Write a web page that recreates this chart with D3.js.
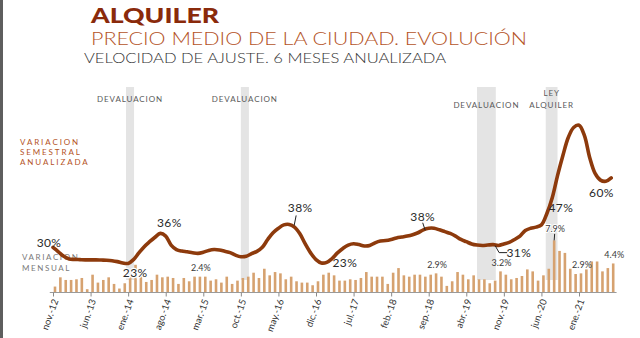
<!DOCTYPE html>
<html><head><meta charset="utf-8">
<script src="https://cdn.jsdelivr.net/npm/d3@7"></script>
<style>
html,body{margin:0;padding:0;background:#fff;}
svg{display:block;font-family:Lato,"Open Sans",sans-serif;}
</style></head><body>
<svg id="c" width="640" height="338"></svg>
<script>
// ---- categories ----
const monthNames = ["ene.","feb.","mar.","abr.","may.","jun.","jul.","ago.","sep.","oct.","nov.","dic."];
const months = [];
for (let k = 0; k < 105; k++) { const m = (10 + k) % 12; const yy = 12 + Math.floor((10 + k) / 12); months.push(monthNames[m] + "-" + yy); }
const tickLabels = ["nov.-12","jun.-13","ene.-14","ago.-14","mar.-15","oct.-15","may.-16","dic.-16","jul.-17","feb.-18","sep.-18","abr.-19","nov.-19","jun.-20","ene.-21"];

// ---- series: variación semestral anualizada (%) ----
const semestral = [30,28,26,24.8,24.6,24.5,24.4,24.4,24.4,24.3,24.2,24.0,23.6,23.0,22.8,24.5,27.5,30.3,32.5,34.5,
36.2,35,31,29,28.3,28.0,27.6,27.3,27.8,28.6,29.0,28.8,28.2,27.6,26.5,25.8,26.0,27.2,28.2,30,
33.5,36.5,38.5,40,40.2,39,36,31.5,27.5,24.5,23,23.3,25,27.5,29.5,31,31.6,31.2,30.6,30.8,
32,32.8,33.0,33.5,34.2,34.6,35,35.6,36.5,37.8,38.5,38.5,37.8,37,36.2,35,33.5,32.5,31.5,31.0,
30.8,31.0,31.2,30.8,31.5,32.2,33.5,35,37.5,38.5,39,40,45,52,62,71,79,83.5,84.5,80,
70,63,60,59.5,61];

// ---- series: variación mensual (%) ----
const mensual = [0.9,2.3,1.9,1.9,2.0,2.2,0.5,2.7,1.5,1.9,2.3,1.3,0.6,1.4,2.4,4.2,3.2,1.6,1.9,2.7,
2.3,2.4,2.2,1.3,2.2,1.7,2.4,2.4,2.4,1.8,2.0,1.5,2.4,1.3,1.8,2.2,2.4,3.0,2.2,3.6,
2.6,3.1,2.9,2.0,2.4,1.7,1.5,1.5,1.1,1.7,2.7,3.0,2.6,1.8,1.8,2.0,1.9,2.2,3.1,2.4,
2.4,2.4,1.3,3.0,3.7,2.6,2.4,2.7,2.7,2.4,2.7,2.9,2.4,1.0,1.7,3.1,2.7,2.0,2.6,2.0,
2.0,1.4,1.8,3.2,2.7,2.0,2.2,2.5,3.5,3.2,1.8,2.6,3.6,7.9,6.3,6.0,3.6,2.8,2.9,3.5,
4.7,4.7,3.2,3.7,4.4];

// ---- events (month-index spans) ----
const eventNames = [["DEVALUACION"],["DEVALUACION"],["DEVALUACION"],["LEY","ALQUILER"]];
const eventFrom = [13.6, 35.0, 79.0, 91.8];
const eventTo   = [15.1, 36.5, 82.5, 94.0];

// ---- annotations ----
const lineNotes = [
  {i:0,  t:"30%", dx:-4,  dy:-0.5},
  {i:14, t:"23%", dx:7,   dy:13.6, halo:true},
  {i:20, t:"36%", dx:9,   dy:-6},
  {i:44, t:"38%", dx:11,  dy:-12.5, ptr:[[7,-9],[5,1]]},
  {i:50, t:"23%", dx:23.5,dy:4},
  {i:70, t:"38%", dx:-6,  dy:-7.3, ptr:[[-6,-5.5],[-3.5,2]]},
  {i:82, t:"31%", dx:25.7,dy:12.2, ptr:[[2,1],[6,8],[14,8]]},
  {i:92, t:"47%", dx:14,  dy:-2},
  {i:102,t:"60%", dx:1,   dy:17}
];
const barNotes = [
  {i:27, t:"2.4%"},{i:71, t:"2.9%"},{i:83, t:"3.2%"},
  {i:93, t:"7.9%", up:8.5, ptr:true},{i:98, t:"2.9%"},{i:104, t:"4.4%"}
];

const svg = d3.select("#c");
const W = 640, H = 338;

// scales
const x = d3.scaleLinear().domain([0, 98]).range([53, 579]);
const barShift = 2;
const yLine = d3.scaleLinear().domain([0, 100]).range([314.5, 90.5]);
const yBar = d3.scaleLinear().domain([0, 10]).range([292.5, 226.5]);

// left border
svg.append("rect").attr("x",0).attr("y",0).attr("width",3).attr("height",H).attr("fill","#5e5e5e");

// titles
svg.append("text").attr("x",91).attr("y",23).attr("font-size",21).attr("font-weight",900)
  .attr("fill","#8a2a0b").attr("textLength",128).attr("lengthAdjust","spacingAndGlyphs").text("ALQUILER");
svg.append("text").attr("x",91).attr("y",44.5).attr("font-size",17).attr("font-weight",300)
  .attr("fill","#b4531f").attr("textLength",436).attr("lengthAdjust","spacingAndGlyphs").text("PRECIO MEDIO DE LA CIUDAD. EVOLUCIÓN");
svg.append("text").attr("x",84).attr("y",63).attr("font-size",13).attr("font-weight",300)
  .attr("fill","#333").attr("textLength",362).attr("lengthAdjust","spacingAndGlyphs").text("VELOCIDAD DE AJUSTE. 6 MESES ANUALIZADA");

// event bands
const bandTop = 87, bandBottom = 280;
eventNames.forEach((lines, k) => {
  const x0 = x(eventFrom[k]), x1 = x(eventTo[k]);
  svg.append("rect").attr("x", x0).attr("y", bandTop).attr("width", x1 - x0).attr("height", bandBottom - bandTop)
    .attr("fill", "#e4e4e4");
  const cx = (x0 + x1) / 2;
  const baseY = k >= 2 ? 107.5 : 101.5;
  lines.forEach((ln, j) => {
    svg.append("text").attr("x", cx).attr("y", baseY - (lines.length - 1 - j) * 11.5)
      .attr("text-anchor","middle").attr("font-size",8).attr("letter-spacing",0.9)
      .attr("fill","#5a5a5a").text(ln);
  });
});

// series labels on left
[["VARIACION",145],["SEMESTRAL",155],["ANUALIZADA",165]].forEach(([t,yy]) => {
  svg.append("text").attr("x",20).attr("y",yy).attr("font-size",8).attr("letter-spacing",1.9)
    .attr("fill","#b4531f").text(t);
});
[["VARIACION",260],["MENSUAL",271]].forEach(([t,yy]) => {
  svg.append("text").attr("x",22).attr("y",yy).attr("font-size",8).attr("letter-spacing",1.6)
    .attr("fill","#7a7a7a").text(t);
});

// bars
svg.append("g").selectAll("rect").data(mensual).join("rect")
  .attr("x", (d,i) => x(i) + barShift - 1.3)
  .attr("y", d => yBar(d))
  .attr("width", 2.6)
  .attr("height", d => yBar(0) - yBar(d))
  .attr("fill", "#d6a270");

// axis line
svg.append("line").attr("x1", x(-0.6)).attr("x2", x(105)).attr("y1", yBar(0)).attr("y2", yBar(0))
  .attr("stroke","#9a9a9a").attr("stroke-width",1);

// x axis
const tickIdx = tickLabels.map(t => months.indexOf(t));
const ax = svg.append("g").attr("transform", `translate(0,${yBar(0)})`)
  .call(d3.axisBottom(x).tickValues(tickIdx).tickFormat(i => months[i]).tickSize(4));
ax.select(".domain").remove();
ax.selectAll(".tick line").attr("stroke","#8a8a8a");
ax.selectAll(".tick text").attr("x",0).attr("y",0).attr("dy","0.35em")
  .attr("transform","translate(2,7) rotate(-70)").attr("text-anchor","end")
  .attr("font-size",9.5).attr("font-family","Lato, sans-serif").attr("fill","#333");

// line
const line = d3.line().x((d,i) => x(i)).y(d => yLine(d)).curve(d3.curveCatmullRom.alpha(0.5));
svg.append("path").datum(semestral).attr("d", line).attr("fill","none")
  .attr("stroke","#8d3a0c").attr("stroke-width",3.6).attr("stroke-linejoin","round").attr("stroke-linecap","round");

// line annotations
lineNotes.forEach(n => {
  const px = x(n.i), py = yLine(semestral[n.i]);
  if (n.ptr) {
    svg.append("path").attr("d", d3.line()(n.ptr.map(p => [px + p[0], py + p[1]])))
      .attr("fill","none").attr("stroke","#222").attr("stroke-width",1);
  }
  const t = svg.append("text").attr("x", px + n.dx).attr("y", py + n.dy).attr("text-anchor","middle")
    .attr("font-size",12).attr("letter-spacing",0.4).attr("fill","#2a2a2a").text(n.t);
  if (n.halo) t.attr("stroke","#fff").attr("stroke-width",2.5).attr("paint-order","stroke");
});

// bar annotations
barNotes.forEach(n => {
  const px = x(n.i) + barShift, py = yBar(mensual[n.i]);
  const up = n.up || 5.5;
  if (n.ptr) {
    svg.append("line").attr("x1", px + 0.5).attr("x2", px).attr("y1", py - 6.5).attr("y2", py)
      .attr("stroke","#222").attr("stroke-width",1);
  }
  svg.append("text").attr("x", px + 1).attr("y", py - up).attr("text-anchor","middle")
    .attr("font-size",9).attr("fill","#3a3a3a").attr("stroke", n.ptr ? "#fff" : null)
    .attr("stroke-width", n.ptr ? 2 : null).attr("paint-order","stroke").text(n.t);
});
</script>
</body></html>
